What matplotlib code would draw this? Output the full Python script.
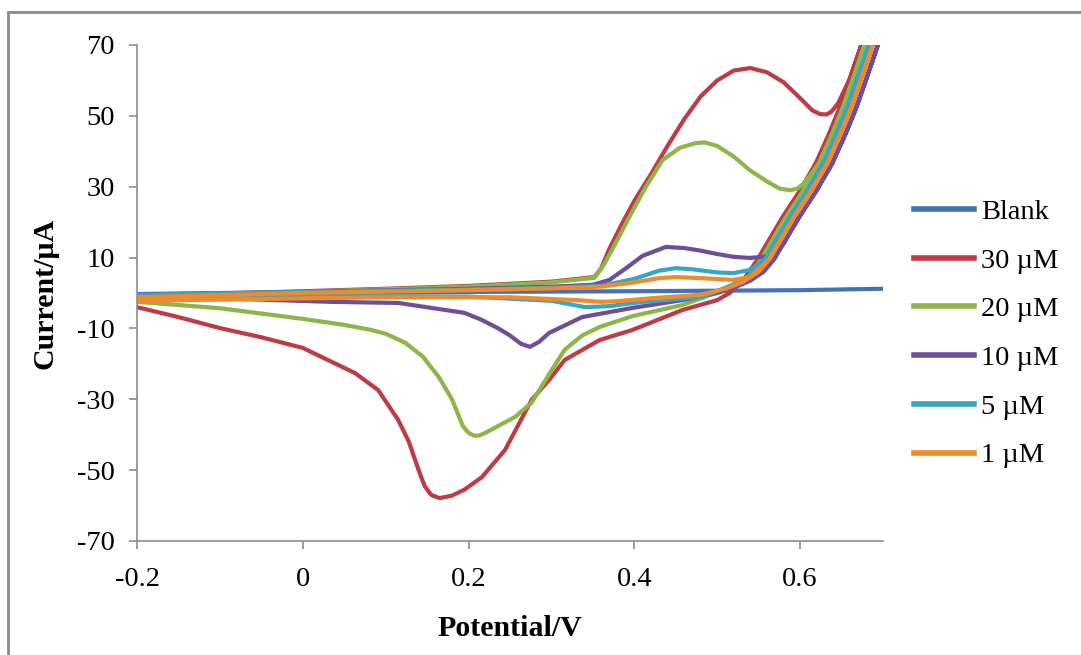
import matplotlib
matplotlib.use("Agg")
import matplotlib.pyplot as plt
from matplotlib.patches import Rectangle

plt.rcParams["font.family"] = ["Liberation Serif", "DejaVu Serif"]
plt.rcParams["axes.unicode_minus"] = False

# Cyclic voltammograms: forward sweep then reverse sweep (V, uA)
blank_E = [-0.2, 0.0, 0.2, 0.4, 0.6, 0.7]
blank_I = [-0.4, 0.0, 0.3, 0.5, 0.8, 1.2]

c30_E = [-0.2, -0.1, 0.0, 0.1, 0.2, 0.3, 0.352, 0.36, 0.37, 0.385, 0.40, 0.42, 0.44, 0.46,
         0.48, 0.50, 0.52, 0.54, 0.56, 0.58, 0.60, 0.615, 0.624, 0.632, 0.638, 0.646, 0.66,
         0.673, 0.69,
         0.673, 0.66, 0.648, 0.635, 0.619, 0.60, 0.579, 0.56, 0.549, 0.531, 0.515, 0.50,
         0.458, 0.398, 0.358, 0.337, 0.316, 0.297, 0.276, 0.244, 0.216, 0.195, 0.18, 0.165,
         0.155, 0.147, 0.139, 0.128, 0.115, 0.091, 0.063, 0.0, -0.05, -0.1, -0.15, -0.2]
c30_I = [-1.0, -0.2, 0.5, 1.2, 2.0, 3.2, 4.5, 7.0, 12.5, 19.5, 26.0, 33.5, 41.5, 49.0,
         55.5, 60.0, 62.8, 63.5, 62.3, 59.5, 55.0, 51.5, 50.5, 50.4, 51.2, 53.6, 60.5,
         69.4, 82.0,
         69.4, 60.5, 52.5, 45.0, 36.7, 29.0, 21.5, 14.0, 9.6, 3.5, 0.0, -2.0,
         -4.8, -10.4, -13.3, -16.1, -18.9, -24.6, -30.2, -44.3, -52.0, -55.5, -57.2, -57.9,
         -57.0, -54.5, -49.5, -42.0, -35.8, -27.4, -22.6, -15.5, -12.5, -9.9, -6.8, -4.0]

c20_E = [-0.2, 0.0, 0.2, 0.3, 0.352, 0.362, 0.375, 0.394, 0.414, 0.434, 0.455, 0.474, 0.485,
         0.50, 0.52, 0.539, 0.56, 0.575, 0.588, 0.597, 0.605, 0.623, 0.639, 0.652, 0.664,
         0.677, 0.694, 0.677, 0.664, 0.652, 0.639, 0.623, 0.604, 0.583, 0.564, 0.553, 0.536,
         0.52, 0.498, 0.458, 0.398, 0.358, 0.337, 0.316, 0.297, 0.276, 0.256, 0.24, 0.22,
         0.213, 0.207, 0.2, 0.193, 0.18, 0.164, 0.145, 0.124, 0.1, 0.082, 0.05, 0.0, -0.1,
         -0.2]
c20_I = [-0.5, 0.3, 1.8, 3.0, 4.3, 7.5, 13.0, 21.5, 30.0, 37.5, 41.0, 42.3, 42.5,
         41.5, 38.5, 34.7, 31.5, 29.5, 29.0, 29.5, 31.0, 36.7, 45.0, 52.5, 60.5,
         69.4, 82.0, 69.4, 60.5, 52.5, 45.0, 36.7, 29.0, 21.5, 14.0, 9.6, 4.0,
         1.5, 0.0, -3.4, -6.5, -9.6, -12.0, -16.0, -23.0, -31.0, -35.0, -37.0, -39.5,
         -40.2, -40.3, -39.5, -37.5, -30.0, -23.7, -18.0, -14.1, -11.5, -10.4, -9.0, -7.3,
         -4.3, -2.5]

c10_E = [-0.2, 0.0, 0.2, 0.3, 0.35, 0.37, 0.39, 0.41, 0.438, 0.46, 0.479, 0.50, 0.52, 0.539,
         0.555, 0.569, 0.58, 0.599, 0.62, 0.639, 0.655, 0.668, 0.68, 0.693, 0.71,
         0.693, 0.68, 0.668, 0.655, 0.639, 0.62, 0.599, 0.58, 0.569, 0.556, 0.54, 0.52,
         0.50, 0.458, 0.398, 0.337, 0.297, 0.285, 0.274, 0.263, 0.25, 0.236, 0.215, 0.195,
         0.115, 0.034, -0.1, -0.2]
c10_I = [-0.3, 0.3, 1.2, 1.8, 2.3, 3.7, 7.0, 10.5, 13.0, 12.7, 12.0, 11.0, 10.2, 9.9,
         10.2, 11.0, 14.0, 21.5, 29.0, 36.7, 45.0, 52.5, 60.5, 69.4, 82.0,
         69.4, 60.5, 52.5, 45.0, 36.7, 29.0, 21.5, 14.0, 9.6, 6.0, 3.5, 1.5,
         0.0, -2.0, -4.2, -6.8, -11.3, -13.8, -15.2, -14.3, -12.0, -10.0, -7.5, -5.6,
         -2.8, -2.5, -1.5, -1.0]

c5_E = [-0.2, 0.0, 0.2, 0.3, 0.36, 0.40, 0.43, 0.45, 0.47, 0.50, 0.519, 0.54, 0.558,
        0.569, 0.588, 0.609, 0.628, 0.644, 0.657, 0.669, 0.682, 0.699,
        0.682, 0.669, 0.657, 0.644, 0.628, 0.609, 0.588, 0.569, 0.558, 0.545, 0.53, 0.51,
        0.482, 0.41, 0.37, 0.341, 0.3, 0.2, 0.0, -0.2]
c5_I = [-0.5, 0.3, 1.0, 1.5, 2.0, 4.0, 6.3, 7.0, 6.7, 5.8, 5.6, 6.5, 9.6,
        14.0, 21.5, 29.0, 36.7, 45.0, 52.5, 60.5, 69.4, 82.0,
        69.4, 60.5, 52.5, 45.0, 36.7, 29.0, 21.5, 14.0, 9.6, 6.0, 3.5, 1.5,
        -1.1, -2.5, -3.7, -4.0, -2.2, -1.0, -0.8, -1.5]

c1_E = [-0.2, 0.0, 0.2, 0.3, 0.36, 0.40, 0.43, 0.45, 0.48, 0.519, 0.54, 0.563,
        0.574, 0.593, 0.614, 0.633, 0.649, 0.662, 0.674, 0.687, 0.704,
        0.687, 0.674, 0.662, 0.649, 0.633, 0.614, 0.593, 0.574, 0.563, 0.55, 0.53, 0.51,
        0.48, 0.42, 0.38, 0.36, 0.33, 0.25, 0.1, -0.2]
c1_I = [-1.2, 0.0, 0.8, 1.3, 1.8, 3.0, 4.2, 4.5, 4.2, 3.7, 4.5, 9.6,
        14.0, 21.5, 29.0, 36.7, 45.0, 52.5, 60.5, 69.4, 82.0,
        69.4, 60.5, 52.5, 45.0, 36.7, 29.0, 21.5, 14.0, 9.6, 6.0, 3.0, 1.2,
        -0.5, -1.5, -2.3, -2.5, -2.0, -1.2, -1.2, -2.2]

series = [("Blank", blank_E, blank_I, "#4372B8"),
          ("30 µM", c30_E, c30_I, "#BE3B45"),
          ("20 µM", c20_E, c20_I, "#8DB547"),
          ("10 µM", c10_E, c10_I, "#6E4E9A"),
          ("5 µM", c5_E, c5_I, "#36A6C2"),
          ("1 µM", c1_E, c1_I, "#F08A2C")]

xticks = [-0.2, 0.0, 0.2, 0.4, 0.6]
xticklabels = ["-0.2", "0", "0.2", "0.4", "0.6"]
yticks = [-70, -50, -30, -10, 10, 30, 50, 70]

fig = plt.figure(figsize=(10.81, 6.55), dpi=100)
ax = fig.add_axes([137 / 1081, 1 - 541 / 655, (883 - 137) / 1081, (541 - 45) / 655])

for label, E, I, color in series:
    ax.plot(E, I, color=color, lw=3.0, label=label, solid_joinstyle="round")

ax.set_xlim(-0.2, 0.7)
ax.set_ylim(-70, 70)
ax.set_xticks(xticks)
ax.set_xticklabels(xticklabels)
ax.set_yticks(yticks)
ax.set_yticklabels([str(v) for v in yticks])
for s in ("top", "right"):
    ax.spines[s].set_visible(False)
for s in ("left", "bottom"):
    ax.spines[s].set_color("#8C8C8C")
    ax.spines[s].set_linewidth(1.2)
ax.tick_params(direction="out", length=6, width=1.2, color="#8C8C8C", labelsize=20.5)
ax.tick_params(axis="x", pad=13)
ax.tick_params(axis="y", pad=10)

ax.set_xlabel("Potential/V", fontsize=21.5, fontweight="bold", labelpad=16)
ax.set_ylabel("Current/µA", fontsize=21.5, fontweight="bold", labelpad=13)

leg = ax.legend(loc="upper left", bbox_to_anchor=(914 / 1081, 1 - 199 / 655),
                bbox_transform=fig.transFigure, frameon=False, fontsize=20.5,
                handlelength=2.1, handletextpad=0.25, labelspacing=0.8,
                borderaxespad=0, borderpad=0)
for h in leg.get_lines():
    h.set_linewidth(4)

fig.patches.append(Rectangle((8 / 1081, -0.1), 1.2, 1 - 12 / 655 + 0.1,
                             transform=fig.transFigure, fill=False,
                             edgecolor="#8A8A8A", lw=2))

fig.savefig("out.png", dpi=100)
